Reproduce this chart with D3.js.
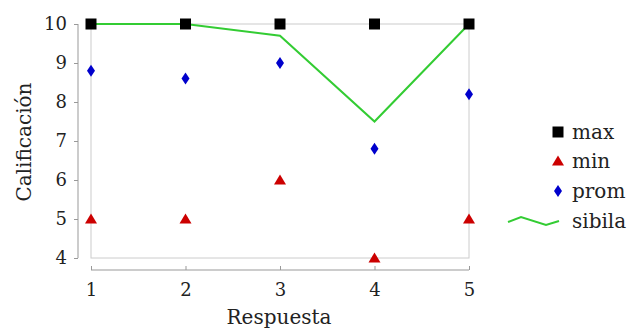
<!DOCTYPE html>
<html><head><meta charset="utf-8">
<script src="https://cdn.jsdelivr.net/npm/d3@7"></script>
<style>body{margin:0;background:#fff}svg{display:block}</style>
</head><body>
<svg id="c" width="639" height="329"></svg>
<script>
const respuestas = [1, 2, 3, 4, 5];
const maxVals = [10, 10, 10, 10, 10];
const minVals = [5, 5, 6, 4, 5];
const promVals = [8.8, 8.6, 9.0, 6.8, 8.2];
const sibilaVals = [10, 10, 9.7, 7.5, 10];
const yTicks = [4, 5, 6, 7, 8, 9, 10];
const legendLabels = ["max", "min", "prom", "sibila"];

const FONT = "'DejaVu Serif', serif";
const svg = d3.select("#c");
const x = d3.scaleLinear().domain([1, 5]).range([91, 469]);
const y = d3.scaleLinear().domain([4, 10]).range([258, 24]);

// frame
svg.append("rect").attr("x", x(1)).attr("y", y(10))
  .attr("width", x(5) - x(1)).attr("height", y(4) - y(10))
  .attr("fill", "none").attr("stroke", "#cccccc").attr("stroke-width", 1);

// axes
const yAxis = d3.axisLeft(y).tickValues(yTicks).tickSize(4).tickPadding(7).tickFormat(d3.format("d"));
const gy = svg.append("g").attr("transform", "translate(78,0)").call(yAxis);
const xAxis = d3.axisBottom(x).tickValues(respuestas).tickSize(-4).tickPadding(10).tickFormat(d3.format("d"));
const gx = svg.append("g").attr("transform", "translate(0,270)").call(xAxis);
[gx, gy].forEach(g => {
  g.select(".domain").attr("stroke", "#999");
  g.selectAll(".tick line").attr("stroke", "#999");
  g.selectAll("text").attr("font-family", FONT).attr("font-size", 18).attr("fill", "#222");
});
gy.select(".domain").attr("d", `M0,${y(10)}V${y(4)}`);
gx.select(".domain").attr("d", `M${x(1)},0H${x(5)}`);
gx.selectAll(".tick text").attr("dy", "0.9em");

// axis titles
svg.append("text").attr("x", 279).attr("y", 324).attr("text-anchor", "middle")
  .attr("font-family", FONT).attr("font-size", 20).attr("fill", "#222").text("Respuesta");
svg.append("text").attr("transform", "translate(31,142) rotate(-90)").attr("text-anchor", "middle")
  .attr("font-family", FONT).attr("font-size", 20).attr("fill", "#222").text("Calificación");

// sibila line
const line = d3.line().x((d, i) => x(respuestas[i])).y(d => y(d));
svg.append("path").datum(sibilaVals).attr("d", line)
  .attr("fill", "none").attr("stroke", "#33cc33").attr("stroke-width", 2);

const sq = d3.symbol().type(d3.symbolSquare).size(121);
const tri = "M0,-5.5L6,4.5L-6,4.5Z";
const dia = "M0,-6L4,0L0,6L-4,0Z";

svg.append("g").selectAll("path").data(maxVals).join("path")
  .attr("transform", (d, i) => `translate(${x(respuestas[i])},${y(d)})`).attr("d", sq).attr("fill", "#000");
svg.append("g").selectAll("path").data(minVals).join("path")
  .attr("transform", (d, i) => `translate(${x(respuestas[i])},${y(d)})`).attr("d", tri).attr("fill", "#cc0000");
svg.append("g").selectAll("path").data(promVals).join("path")
  .attr("transform", (d, i) => `translate(${x(respuestas[i])},${y(d)})`).attr("d", dia).attr("fill", "#0000cc");

// legend
const rows = [132, 161, 191, 221];
const lg = svg.append("g");
lg.append("path").attr("transform", `translate(558,${rows[0]})`).attr("d", sq).attr("fill", "#000");
lg.append("path").attr("transform", `translate(558,${rows[1]})`).attr("d", tri).attr("fill", "#cc0000");
lg.append("path").attr("transform", `translate(558,${rows[2]})`).attr("d", dia).attr("fill", "#0000cc");
lg.append("path").attr("d", `M508,${rows[3]+1}L521,${rows[3]-4}L546,${rows[3]+4}L559,${rows[3]}`)
  .attr("fill", "none").attr("stroke", "#33cc33").attr("stroke-width", 2);
lg.selectAll("text").data(legendLabels).join("text")
  .attr("x", 572).attr("y", (d, i) => rows[i] + 7)
  .attr("font-family", FONT).attr("font-size", 20).attr("fill", "#222").text(d => d);
</script>
</body></html>
